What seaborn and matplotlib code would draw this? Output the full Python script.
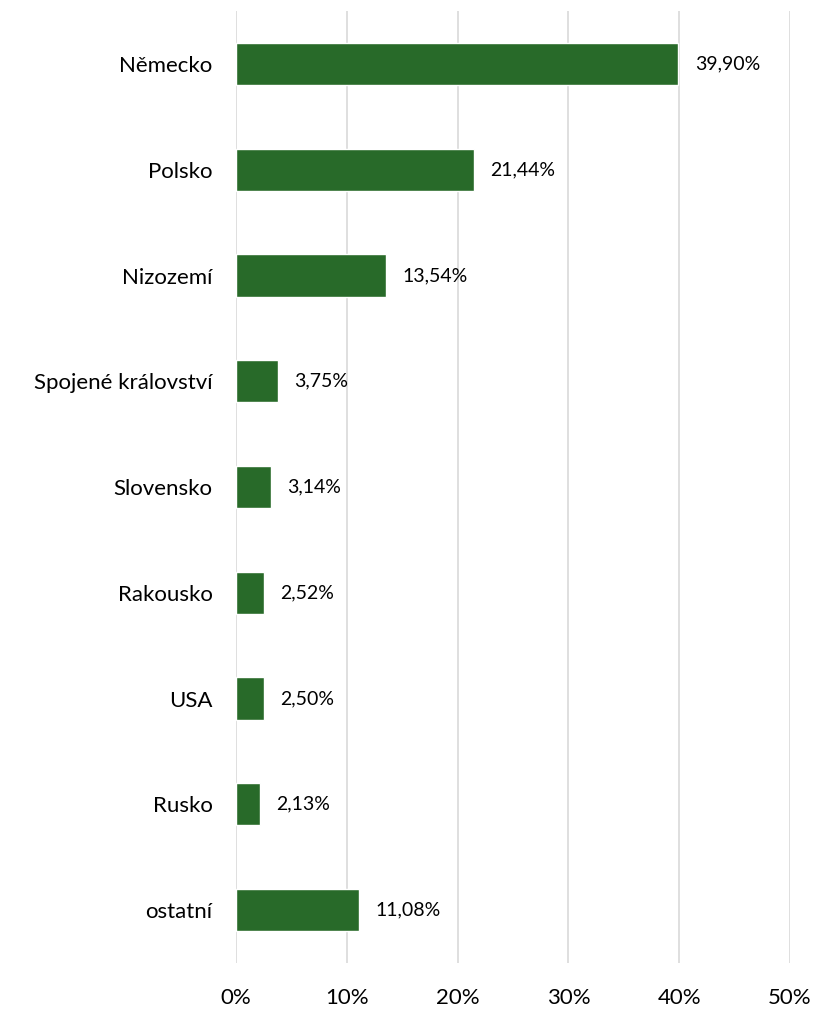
import matplotlib
matplotlib.use("Agg")
import matplotlib.pyplot as plt
import seaborn as sns
import pandas as pd
from matplotlib.ticker import FuncFormatter

countries = ["Německo", "Polsko", "Nizozemí", "Spojené království", "Slovensko",
             "Rakousko", "USA", "Rusko", "ostatní"]
shares = [39.90, 21.44, 13.54, 3.75, 3.14, 2.52, 2.50, 2.13, 11.08]
x_ticks = [0, 10, 20, 30, 40, 50]

df = pd.DataFrame({"country": countries, "share": shares})

sns.set_theme(style="white")
plt.rcParams['font.family'] = ['Lato', 'DejaVu Sans']

fig = plt.figure(figsize=(8.15, 10.09), dpi=100)
ax = fig.add_axes([0.2896, 0.0456, 0.6797, 0.9434])

sns.barplot(data=df, x="share", y="country", color="#286a29", saturation=1,
            width=0.4, ax=ax, zorder=3)

# value labels, comma as decimal separator
for i, v in enumerate(shares):
    ax.text(v + 1.5, i, f"{v:.2f}".replace(".", ",") + "%", va="center", ha="left",
            fontsize=14, color="black")

ax.set_xlim(0, 50)
ax.set_ylim(8.5, -0.5)
ax.set_xticks(x_ticks)
ax.xaxis.set_major_formatter(FuncFormatter(lambda v, p: f"{v:.0f}%"))
ax.grid(axis="x", color="#d9d9d9", linewidth=1.2, zorder=0)
ax.grid(axis="y", visible=False)
for s in ax.spines.values():
    s.set_visible(False)
ax.tick_params(axis="x", length=0, pad=18, labelsize=16, labelcolor="black")
ax.tick_params(axis="y", length=0, pad=17, labelsize=16, labelcolor="black")
ax.set_xlabel("")
ax.set_ylabel("")

fig.savefig("out.png", dpi=100)
